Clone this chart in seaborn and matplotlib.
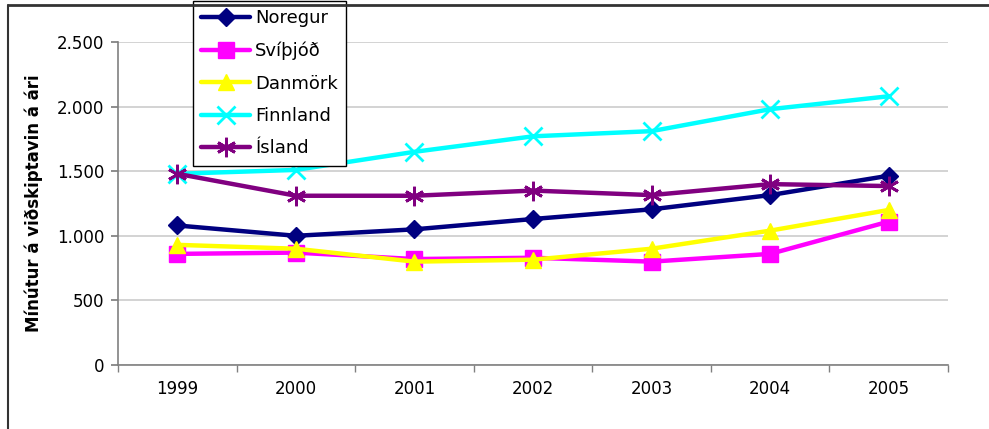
import seaborn as sns
import pandas as pd
import matplotlib.pyplot as plt
from matplotlib.lines import Line2D
from matplotlib.ticker import MultipleLocator, FuncFormatter
import numpy as np

# data
years = ["1999", "2000", "2001", "2002", "2003", "2004", "2005"]
noregur = [1080, 1000, 1050, 1130, 1205, 1315, 1465]
svithjod = [860, 870, 820, 830, 800, 860, 1110]
danmork = [930, 900, 800, 815, 900, 1040, 1200]
finnland = [1480, 1510, 1650, 1770, 1810, 1980, 2080]
island = [1480, 1310, 1310, 1350, 1315, 1400, 1385]

countries = ["Noregur", "Svíþjóð", "Danmörk", "Finnland", "Ísland"]
series = [noregur, svithjod, danmork, finnland, island]
colors = {"Noregur": "#000080", "Svíþjóð": "#FF00FF", "Danmörk": "#FFFF00",
          "Finnland": "#00FFFF", "Ísland": "#800080"}
markers = {"Noregur": "D", "Svíþjóð": "s", "Danmörk": "^",
           "Finnland": "x", "Ísland": (6, 2, 0)}
msizes = {"Noregur": 9, "Svíþjóð": 11, "Danmörk": 12, "Finnland": 13, "Ísland": 14}

rows = []
for c, vals in zip(countries, series):
    for i, v in enumerate(vals):
        rows.append({"ar": i, "land": c, "min": v})
df = pd.DataFrame(rows)

sns.set_theme(style="white")
plt.rcParams['font.family'] = ['DejaVu Sans']
plt.rcParams['text.color'] = 'black'
plt.rcParams['axes.labelcolor'] = 'black'

fig = plt.figure(figsize=(9.89, 4.29), dpi=100)
ax = fig.add_axes([118/989, 1-365/429, (948-118)/989, (365-42)/429])

for c in countries:
    sub = df[df["land"] == c]
    sns.lineplot(data=sub, x="ar", y="min", ax=ax, color=colors[c],
                 marker=markers[c], markersize=msizes[c], linewidth=3.2,
                 markeredgecolor=colors[c], markeredgewidth=2 if c in ("Finnland", "Ísland") else 1,
                 label=c)

ax.set_xlim(-0.5, 6.5)
ax.set_ylim(0, 2500)
ax.yaxis.set_major_locator(MultipleLocator(500))
ax.yaxis.set_major_formatter(FuncFormatter(lambda v, p: f"{int(v):,}".replace(",", ".")))
ax.set_xticks(range(len(years)))
ax.set_xticklabels(years)
ax.set_xticks(np.arange(-0.5, 7, 1), minor=True)
ax.tick_params(axis="x", which="major", length=0, pad=11, labelsize=12, colors="black")
ax.tick_params(axis="x", which="minor", length=5, color="#808080", direction="out", bottom=True)
ax.tick_params(axis="y", length=5, color="#808080", direction="out", left=True,
               labelsize=12, pad=5, colors="black")
ax.grid(axis="y", color="#d0d0d0", linewidth=1.3)
ax.set_axisbelow(True)
for s in ["top", "right"]:
    ax.spines[s].set_visible(False)
for s in ["left", "bottom"]:
    ax.spines[s].set_color("#808080")
    ax.spines[s].set_linewidth(1.2)

ax.set_xlabel("")
ax.set_ylabel("Mínútur á viðskiptavin á ári", fontsize=12, fontweight="bold", labelpad=10)

handles, labels = ax.get_legend_handles_labels()
leg = ax.legend(handles, labels, loc="upper left", bbox_to_anchor=((193-118)/830, (365-1)/323),
                frameon=True, fancybox=False, edgecolor="black", framealpha=1,
                fontsize=13, handlelength=2.7, labelspacing=0.8, borderpad=0.45,
                handletextpad=0.3, borderaxespad=0)
leg.get_frame().set_linewidth(1.0)
leg.set_zorder(5)

# outer frame of the chart object (top and left edges visible)
fig.add_artist(Line2D([8/989, 8/989], [0, 1-5/429], color="#333333", linewidth=1.5))
fig.add_artist(Line2D([8/989, 1], [1-5/429, 1-5/429], color="#333333", linewidth=2))

plt.savefig("out.png", dpi=100)
